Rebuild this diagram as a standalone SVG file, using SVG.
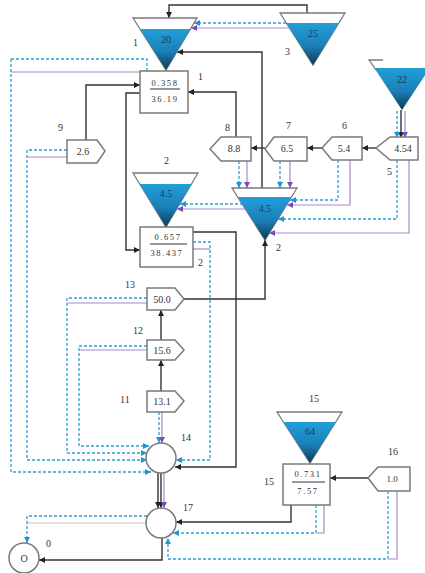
<svg xmlns="http://www.w3.org/2000/svg" width="425" height="573" viewBox="0 0 425 573">
<style>
.bg{fill:#fff}
.tk{fill:#fff;stroke:#7a7a7a;stroke-width:1.3}
.wt{fill:url(#wg);stroke:none}
.nd{fill:#fff;stroke:#7a7a7a;stroke-width:1.5}
.k{fill:none;stroke:#333;stroke-width:1.4}
.c{fill:none;stroke:#2a9fd8;stroke-width:1.3;stroke-dasharray:3,2}
.p{fill:none;stroke:#a58cc6;stroke-width:1.2}
.g{fill:none;stroke:#c8c0d0;stroke-width:1.2}
.ka{marker-end:url(#ak)}
.ca{marker-end:url(#ac)}
.pa{marker-end:url(#ap)}
text{font-family:"Liberation Serif","Times New Roman",serif;fill:#333}
.lbl{font-size:10px}
.val{font-size:10px;text-anchor:middle}
.tv{font-size:10px;text-anchor:middle;fill:#1a3a5a}
.fr{font-size:8.5px;text-anchor:middle;letter-spacing:1.6px}
</style>
<defs>
<linearGradient id="wg" x1="0" y1="0" x2="0" y2="1">
<stop offset="0" stop-color="#229ed9"/>
<stop offset="0.55" stop-color="#1a80b6"/>
<stop offset="1" stop-color="#0a3a55"/>
</linearGradient>
<marker id="ak" viewBox="0 0 6 6" refX="6" refY="3" markerWidth="6" markerHeight="6" markerUnits="userSpaceOnUse" orient="auto"><path d="M0,0L6,3L0,6z" fill="#222"/></marker>
<marker id="ac" viewBox="0 0 6 6" refX="6" refY="3" markerWidth="6" markerHeight="6" markerUnits="userSpaceOnUse" orient="auto"><path d="M0,0L6,3L0,6z" fill="#1e96d4"/></marker>
<marker id="ap" viewBox="0 0 6 6" refX="6" refY="3" markerWidth="6" markerHeight="6" markerUnits="userSpaceOnUse" orient="auto"><path d="M0,0L6,3L0,6z" fill="#7a4cb8"/></marker>
</defs>
<rect class="bg" x="0" y="0" width="425" height="573"/>

<g id="connectors">
<path class="k ka" d="M307,13 V5 H169 V18"/>
<path class="c ca" d="M286,23 H194"/>
<path class="p pa" d="M289,28 H191"/>
<path class="k ka" d="M262,188 V52 H177"/>
<path class="k ka" d="M236,137 V92 H188"/>
<path class="k ka" d="M86,140 V85 H140"/>
<path class="k ka" d="M140,93 H126 V250 H140"/>
<path class="c" d="M147,71 V59 H11"/>
<path class="c ca" d="M11,59 V472 H151"/>
<path class="p" d="M140,72 H11"/>
<path class="c ca" d="M67,150 H27 V460 H147"/>
<path class="p" d="M67,157 H27"/>
<path class="c ca" d="M147,298 H67 V453 H147"/>
<path class="p" d="M147,303 H67"/>
<path class="c ca" d="M147,346 H79 V446 H149"/>
<path class="p" d="M147,350 H79"/>
<path class="k ka" d="M161,391 V360"/>
<path class="k ka" d="M161,340 V310"/>
<path class="c ca" d="M159,412 V443"/>
<path class="p pa" d="M162,412 V443"/>
<path class="k ka" d="M184,299 H265 V240"/>
<path class="k ka" d="M193,232 H236 V467 H175"/>
<path class="c ca" d="M193,242 H210 V460 H176"/>
<path class="p" d="M193,249 H210"/>
<path class="k ka" d="M401,110 V138"/>
<path class="c ca" d="M397,111 V138"/>
<path class="p pa" d="M405,111 V138"/>
<path class="k ka" d="M376,148 H362"/>
<path class="k ka" d="M322,148 H307"/>
<path class="k ka" d="M265,148 H251"/>
<path class="c ca" d="M239,161 V188"/>
<path class="p pa" d="M247,161 V188"/>
<path class="c ca" d="M280,161 V188"/>
<path class="p pa" d="M290,161 V188"/>
<path class="c ca" d="M338,160 V200 H290"/>
<path class="p pa" d="M350,160 V205 H287"/>
<path class="c ca" d="M397,160 V219 H278"/>
<path class="p pa" d="M409,160 V233 H269"/>
<path class="c ca" d="M243,204 H180"/>
<path class="p pa" d="M245,209 H177"/>
<path class="k ka" d="M158,473 V508"/>
<path class="k ka" d="M161,473 V508"/>
<path class="p pa" d="M164,473 V508"/>
<path class="k ka" d="M291,505 V522 H176"/>
<path class="c ca" d="M316,505 V533 H173"/>
<path class="p" d="M324,505 V533 H316"/>
<path class="k ka" d="M368,478 H330"/>
<path class="c ca" d="M388,491 V559 H168 V538"/>
<path class="p" d="M397,491 V559 H388"/>
<path class="k ka" d="M162,538 V560 H39"/>
<path class="c ca" d="M147,516 H27 V543"/>
<path class="g" d="M147,523 H28"/>
</g>

<g id="tank1">
<polygon class="tk" points="133,18 197,18 166,70"/>
<polygon class="wt" points="140,29 190.4,29 166,70"/>
<text class="tv" x="166" y="43">20</text>
<text class="lbl" x="133" y="46">1</text>
</g>
<g id="tank3">
<polygon class="tk" points="280,13 345,13 313,65"/>
<polygon class="wt" points="286.3,23 338.8,23 313,65"/>
<text class="tv" x="313" y="37">25</text>
<text class="lbl" x="285" y="55">3</text>
</g>
<g id="tank22">
<path class="tk" d="M383,60 H369 L376,70" fill="none"/>
<polygon class="wt" points="374.3,68 429.7,68 402,110"/>
<text class="tv" x="402" y="83">22</text>
</g>
<g id="box1">
<rect class="nd" x="140" y="71" width="48" height="42"/>
<text class="fr" x="165" y="86">0.358</text>
<line x1="150" y1="89" x2="180" y2="89" stroke="#333" stroke-width="1"/>
<text class="fr" x="165" y="102">36.19</text>
<text class="lbl" x="198" y="80">1</text>
</g>
<g id="node9">
<path class="nd" d="M67,140 H97 L105,151 L97,163 H67 Z"/>
<text class="val" x="83" y="155">2.6</text>
<text class="lbl" x="58" y="131">9</text>
</g>
<g id="node8">
<path class="nd" d="M221,137 H251 V161 H221 L210,149 Z"/>
<text class="val" x="234" y="152">8.8</text>
<text class="lbl" x="225" y="131">8</text>
</g>
<g id="node7">
<path class="nd" d="M274,137 H307 V161 H274 L265,149 Z"/>
<text class="val" x="287" y="152">6.5</text>
<text class="lbl" x="286" y="129">7</text>
</g>
<g id="node6">
<path class="nd" d="M332,137 H362 V160 H332 L322,148 Z"/>
<text class="val" x="344" y="152">5.4</text>
<text class="lbl" x="342" y="129">6</text>
</g>
<g id="node5">
<path class="nd" d="M390,137 H418 V160 H390 L376,148 Z"/>
<text class="val" x="403" y="152">4.54</text>
<text class="lbl" x="387" y="175">5</text>
</g>
<g id="tank2L">
<polygon class="tk" points="133,173 198,173 166,227"/>
<polygon class="wt" points="139.7,184 191.5,184 166,227"/>
<text class="tv" x="166" y="197">4.5</text>
<text class="lbl" x="164" y="164">2</text>
</g>
<g id="tank2R">
<polygon class="tk" points="232,188 297,188 265,240"/>
<polygon class="wt" points="237.7,197 291.5,197 265,240"/>
<text class="tv" x="265" y="212">4.5</text>
<text class="lbl" x="276" y="251">2</text>
</g>
<g id="box2">
<rect class="nd" x="140" y="227" width="53" height="40"/>
<text class="fr" x="168" y="240">0.657</text>
<line x1="150" y1="244" x2="187" y2="244" stroke="#333" stroke-width="1"/>
<text class="fr" x="167" y="256">38.437</text>
<text class="lbl" x="198" y="266">2</text>
</g>
<g id="node13">
<path class="nd" d="M147,288 H175 L184,299 L175,310 H147 Z"/>
<text class="val" x="162" y="303">50.0</text>
<text class="lbl" x="125" y="288">13</text>
</g>
<g id="node12">
<path class="nd" d="M147,340 H175 L184,350 L175,360 H147 Z"/>
<text class="val" x="162" y="354">15.6</text>
<text class="lbl" x="133" y="334">12</text>
</g>
<g id="node11">
<path class="nd" d="M147,391 H175 L184,401 L175,412 H147 Z"/>
<text class="val" x="162" y="405">13.1</text>
<text class="lbl" x="120" y="403">11</text>
</g>
<g id="circle14">
<circle class="nd" cx="161" cy="458" r="15"/>
<text class="lbl" x="181" y="441">14</text>
</g>
<g id="tank15">
<polygon class="tk" points="277,412 342,412 310,463"/>
<polygon class="wt" points="283.5,422 335.7,422 310,463"/>
<text class="tv" x="310" y="435">64</text>
<text class="lbl" x="309" y="402">15</text>
</g>
<g id="box15">
<rect class="nd" x="283" y="464" width="47" height="41"/>
<text class="fr" x="308" y="477">0.731</text>
<line x1="292" y1="482" x2="325" y2="482" stroke="#333" stroke-width="1"/>
<text class="fr" x="308" y="494">7.57</text>
<text class="lbl" x="264" y="485">15</text>
</g>
<g id="node16">
<path class="nd" d="M378,467 H410 V491 H378 L368,478 Z"/>
<text class="val" x="392" y="482" style="font-size:9px">1.0</text>
<text class="lbl" x="388" y="455">16</text>
</g>
<g id="circle17">
<circle class="nd" cx="161" cy="523" r="15"/>
<text class="lbl" x="183" y="511">17</text>
</g>
<g id="circle0">
<circle class="nd" cx="24" cy="558" r="15"/>
<text class="val" x="24" y="562">O</text>
<text class="lbl" x="46" y="547">0</text>
</g>
</svg>
